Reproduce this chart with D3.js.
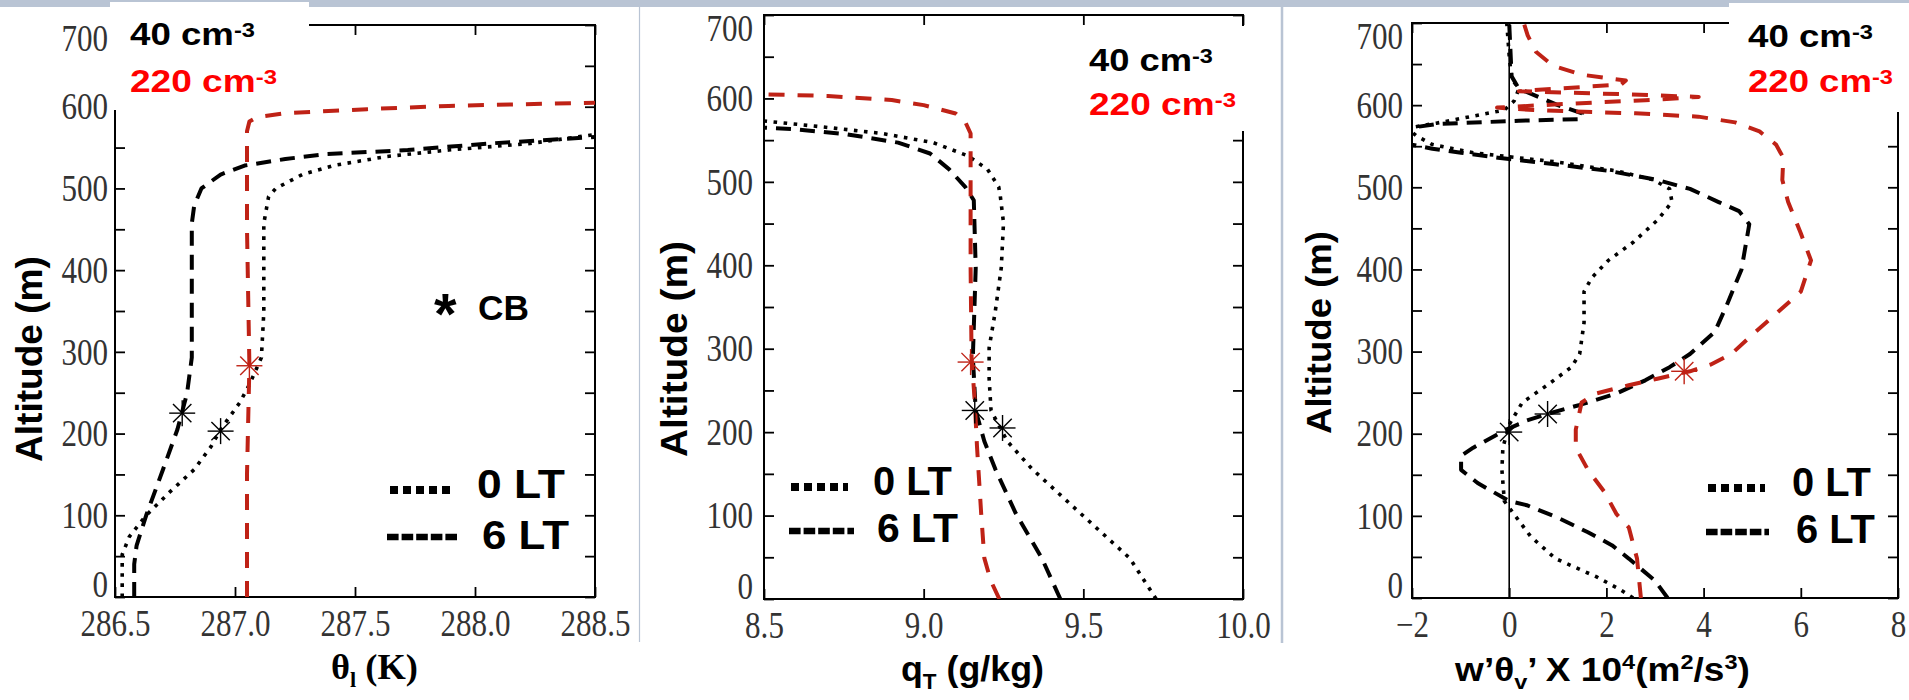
<!DOCTYPE html>
<html>
<head>
<meta charset="utf-8">
<script src="https://cdn.jsdelivr.net/npm/d3@7"></script>
<style>
body { margin: 0; background: #fff; }
svg { display: block; }
</style>
</head>
<body>
<div id="chart"></div>
<script>

// ---- data (altitude in m, value) ----
var altTicks = d3.range(0, 701, 50);
var altLabels = [0, 100, 200, 300, 400, 500, 600, 700];

var thetaTicks = [286.5, 287.0, 287.5, 288.0, 288.5];
var qtTicks = [8.5, 9.0, 9.5, 10.0];
var fluxTicks = [-2, 0, 2, 4, 6, 8];

// theta_l (K)
var theta0LT = [[0,286.53],[52,286.53],[74,286.56],[100,286.63],[129,286.73],[156,286.83],[184,286.90],[205,286.94],[238,287.02],[260,287.06],[293,287.11],[348,287.12],[457,287.12],[490,287.14],[500,287.17],[517,287.28],[528,287.41],[539,287.63],[547,287.89],[555,288.23],[566,288.5]];
var theta6LT = [[0,286.58],[40,286.58],[63,286.59],[100,286.63],[156,286.70],[205,286.76],[249,286.80],[293,286.82],[457,286.82],[479,286.83],[500,286.86],[517,286.94],[528,287.04],[536,287.21],[542,287.38],[547,287.72],[555,288.06],[563,288.5]];
var theta220 = [[0,287.05],[150,287.05],[283,287.06],[450,287.05],[570,287.05],[582,287.06],[587,287.09],[592,287.21],[597,287.55],[601,287.89],[605,288.5]];
var thetaCB = [[225,286.78],[203,286.94]];
var thetaCB220 = [[283,287.06]];

// q_T (g/kg)
var qt0LT = [[0,9.728],[49,9.645],[103,9.49],[156,9.339],[189,9.262],[226,9.211],[264,9.205],[301,9.205],[344,9.224],[397,9.243],[451,9.25],[483,9.24],[494,9.235],[515,9.20],[531,9.14],[547,9.03],[558,8.87],[566,8.68],[573,8.5]];
var qt6LT = [[0,9.428],[49,9.37],[103,9.288],[156,9.224],[189,9.19],[226,9.163],[290,9.154],[397,9.163],[478,9.157],[494,9.13],[515,9.08],[534,9.02],[547,8.92],[557,8.76],[563,8.6],[565,8.5]];
var qt220 = [[0,9.237],[22,9.21],[49,9.19],[103,9.18],[183,9.167],[237,9.16],[290,9.15],[397,9.147],[558,9.147],[572,9.13],[582,9.10],[592,9.0],[598,8.9],[603,8.7],[605,8.5]];
var qtCB = [[226,9.16],[205,9.247]];
var qtCB220 = [[284,9.147]];

// w'theta_v' x 10^4 (m2/s3)
var flux0LT = [[0,2.55],[10,2.29],[26,1.79],[48,0.95],[75,0.44],[102,0.1],[118,-0.1],[156,-0.15],[183,-0.13],[211,0],[238,0.27],[259,0.78],[281,1.28],[297,1.45],[335,1.54],[373,1.54],[390,1.70],[411,2.04],[433,2.55],[460,3.05],[482,3.35],[498,3.3],[509,2.97],[520,2.21],[531,0.95],[542,-0.74],[552,-1.58],[563,-1.92],[572,-2.1],[578,-1.5],[586,-0.8],[594,-0.1],[605,0.1],[620,0.2],[632,0.05],[660,0.0],[700,-0.05]];
var flux6LT = [[0,3.26],[21,3.0],[48,2.46],[64,2.12],[80,1.62],[97,1.03],[113,0.36],[118,0],[140,-0.65],[156,-0.99],[173,-0.99],[183,-0.74],[205,-0.06],[216,0.36],[224,0.78],[235,1.45],[249,2.21],[265,2.80],[281,3.30],[297,3.72],[324,4.23],[357,4.48],[400,4.78],[455,4.94],[471,4.73],[482,4.31],[498,3.72],[509,3.05],[520,2.04],[528,0.95],[536,-0.23],[542,-0.99],[547,-1.58],[553,-2.1],[570,-2.3],[577,-1.5],[581,0.2],[583,1.5],[590,1.5],[600,1.0],[610,0.6],[620,0.2],[635,0.05],[700,0.0]];
var flux220 = [[0,2.71],[48,2.63],[86,2.46],[102,2.21],[129,1.96],[156,1.62],[183,1.37],[205,1.37],[238,1.49],[249,1.79],[259,2.46],[267,3.05],[276,3.72],[284,4.14],[297,4.57],[324,5.07],[346,5.49],[373,6.0],[411,6.21],[444,6.0],[482,5.74],[509,5.62],[536,5.64],[552,5.49],[568,5.15],[579,4.65],[586,3.89],[590,2.6],[594,0.5],[597,-0.25],[601,1.0],[606,2.8],[610,3.9],[613,2.5],[617,0.2],[621,1.2],[625,2.3],[630,2.4],[637,1.5],[648,0.9],[665,0.55],[685,0.38],[700,0.3]];
var fluxCB = [[202,0.0],[224,0.79]];
var fluxCB220 = [[276,3.6]];

// ---- layout ----
var width = 1909, height = 700;
var RED_LINE = "#bf2216", RED_TEXT = "#ff0000", BAND = "#b9c4d4";
var SANS = "Liberation Sans, Arial, sans-serif", SERIF = "Liberation Serif, Times New Roman, serif";

var svg = d3.select("#chart")
    .append("svg")
    .attr("width", width)
    .attr("height", height);

svg.append("rect").attr("width", width).attr("height", height).attr("fill", "#fff");
svg.append("rect").attr("x", 0).attr("y", 0).attr("width", width).attr("height", 7).attr("fill", BAND);
svg.append("line").attr("x1", 639.5).attr("x2", 639.5).attr("y1", 7).attr("y2", 642)
    .attr("stroke", BAND).attr("stroke-width", 1.2);
svg.append("line").attr("x1", 1282).attr("x2", 1282).attr("y1", 7).attr("y2", 643)
    .attr("stroke", BAND).attr("stroke-width", 2.5);

var panels = [
    { id: "p1", left: 115, right: 595, top: 25, bottom: 597, domain: [286.5, 288.5], ticks: thetaTicks,
      fmt: d3.format(".1f"), labPad: 7,
      series: [theta0LT, theta6LT, theta220], cb: thetaCB, cb220: thetaCB220, zero: false },
    { id: "p2", left: 764, right: 1243, top: 15, bottom: 599, domain: [8.5, 10.0], ticks: qtTicks,
      fmt: d3.format(".1f"), labPad: 11,
      series: [qt0LT, qt6LT, qt220], cb: qtCB, cb220: qtCB220, zero: false },
    { id: "p3", left: 1412, right: 1898, top: 23, bottom: 598, domain: [-2, 8], ticks: fluxTicks,
      fmt: d3.format("d"), labPad: 9,
      series: [flux0LT, flux6LT, flux220], cb: fluxCB, cb220: fluxCB220, zero: true }
];

var styles = [
    { stroke: "#000", width: 3.6, dash: "3.6,6.5" },
    { stroke: "#000", width: 4, dash: "15,9" },
    { stroke: RED_LINE, width: 4, dash: "16,13" }
];

function star(g, cx, cy, r, color) {
    for (var k = 0; k < 4; k++) {
        var a = k * Math.PI / 4;
        g.append("line")
            .attr("x1", cx - r * Math.cos(a)).attr("y1", cy - r * Math.sin(a))
            .attr("x2", cx + r * Math.cos(a)).attr("y2", cy + r * Math.sin(a))
            .attr("stroke", color).attr("stroke-width", 1.4);
    }
}

// tick labels in the original are tall and narrow
function squeezeLabels(sel) {
    sel.each(function() {
        var t = d3.select(this);
        var tx = +t.attr("x") || 0, ty = +t.attr("y") || 0;
        t.attr("x", 0).attr("y", 0)
            .attr("transform", "translate(" + tx + "," + ty + ") scale(0.84,1)");
    });
}

panels.forEach(function(p) {
    var x = d3.scaleLinear().domain(p.domain).range([p.left, p.right]);
    var y = d3.scaleLinear().domain([0, 700]).range([p.bottom, p.top]);
    var g = svg.append("g");

    svg.append("clipPath").attr("id", "clip-" + p.id)
        .append("rect").attr("x", p.left).attr("y", p.top)
        .attr("width", p.right - p.left).attr("height", p.bottom - p.top);

    // axes: ticks inward on all four sides
    var ax = [
        d3.axisBottom(x).tickValues(p.ticks).tickFormat(p.fmt).tickSizeInner(-10).tickSizeOuter(0).tickPadding(13),
        d3.axisTop(x).tickValues(p.ticks).tickFormat("").tickSizeInner(-10).tickSizeOuter(0),
        d3.axisLeft(y).tickValues(altTicks).tickFormat(function(d) { return altLabels.indexOf(d) >= 0 ? d : ""; })
            .tickSizeInner(-10).tickSizeOuter(0).tickPadding(p.labPad),
        d3.axisRight(y).tickValues(altTicks).tickFormat("").tickSizeInner(-10).tickSizeOuter(0)
    ];
    var pos = ["translate(0," + p.bottom + ")", "translate(0," + p.top + ")",
               "translate(" + p.left + ",0)", "translate(" + p.right + ",0)"];
    ax.forEach(function(a, i) {
        var ag = g.append("g").attr("transform", pos[i]).call(a);
        ag.select(".domain").remove();
        ag.selectAll(".tick line").attr("stroke", "#000").attr("stroke-width", 1.8);
        ag.selectAll("text").attr("font-family", SERIF).attr("font-size", 37).attr("fill", "#333");
        if (i === 2) {
            ag.selectAll(".tick text").attr("dy", function(d) {
                return d === 700 ? "0.7em" : d === 0 ? "-0.02em" : "0.33em";
            });
        }
        if (i === 0 || i === 2) squeezeLabels(ag.selectAll(".tick text"));
    });

    g.append("rect").attr("x", p.left).attr("y", p.top)
        .attr("width", p.right - p.left).attr("height", p.bottom - p.top)
        .attr("fill", "none").attr("stroke", "#000").attr("stroke-width", 2);

    var plot = g.append("g").attr("clip-path", "url(#clip-" + p.id + ")");

    if (p.zero) {
        plot.append("line").attr("x1", x(0)).attr("x2", x(0)).attr("y1", y(0)).attr("y2", y(700))
            .attr("stroke", "#000").attr("stroke-width", 1.6);
    }

    var line = d3.line()
        .x(function(d) { return x(d[1]); })
        .y(function(d) { return y(d[0]); });

    p.series.forEach(function(s, i) {
        plot.append("path")
            .attr("d", line(s))
            .attr("fill", "none")
            .attr("stroke", styles[i].stroke)
            .attr("stroke-width", styles[i].width)
            .attr("stroke-dasharray", styles[i].dash)
            .attr("stroke-linejoin", "round");
    });

    p.cb.forEach(function(d) { star(plot, x(d[1]), y(d[0]), 13, "#000"); });
    p.cb220.forEach(function(d) { star(plot, x(d[1]), y(d[0]), 13, RED_LINE); });
});

// white boxes that hide parts of the frames (as in the original)
svg.append("rect").attr("x", 110).attr("y", 2).attr("width", 199).attr("height", 108).attr("fill", "#fff");
svg.append("rect").attr("x", 1082).attr("y", 26).attr("width", 168).attr("height", 105).attr("fill", "#fff");
svg.append("rect").attr("x", 1729).attr("y", 3).attr("width", 180).attr("height", 109).attr("fill", "#fff");

// ---- text helpers ----
function fitText(x0, x1, baseY, size, family, build) {
    var g = svg.append("g");
    var t = g.append("text").attr("font-family", family).attr("font-size", size).attr("font-weight", "bold");
    build(t);
    var b = t.node().getBBox();
    var s = (x1 - x0) / b.width;
    g.attr("transform", "translate(" + (x0 - b.x * s) + "," + baseY + ") scale(" + s + ",1)");
    return t;
}

function fitVertical(baseX, yTop, yBottom, size, txt) {
    var g = svg.append("g");
    var t = g.append("text").attr("font-family", SANS).attr("font-size", size).attr("font-weight", "bold").text(txt);
    var b = t.node().getBBox();
    var s = (yBottom - yTop) / b.width;
    g.attr("transform", "translate(" + baseX + "," + yBottom + ") rotate(-90) scale(" + s + ",1) translate(" + (-b.x) + ",0)");
}

function conc(x0, x1, baseY, num, color) {
    fitText(x0, x1, baseY, 31, SANS, function(t) {
        t.attr("fill", color);
        t.append("tspan").text(num + " cm");
        t.append("tspan").attr("font-size", 20).attr("dy", -8).text("-3");
    });
}

// concentration labels
conc(130, 255, 45, "40", "#000");
conc(130, 277, 92, "220", RED_TEXT);
conc(1089, 1213, 71, "40", "#000");
conc(1089, 1236, 115, "220", RED_TEXT);
conc(1748, 1873, 47, "40", "#000");
conc(1748, 1893, 92, "220", RED_TEXT);

// cloud base key
svg.append("text").attr("x", 434).attr("y", 334).attr("font-family", SANS).attr("font-weight", "bold")
    .attr("font-size", 58).text("*");
fitText(478, 529, 320, 35, SANS, function(t) { t.text("CB"); });

// legends
var legends = [
    { dot: [390, 450, 494], dash: [387, 457, 537], t0: [477, 565, 498], t6: [482, 569, 549] },
    { dot: [791, 848, 491], dash: [789, 854, 531], t0: [873, 952, 495], t6: [877, 958, 542] },
    { dot: [1708, 1765, 492], dash: [1706, 1769, 532], t0: [1792, 1871, 496], t6: [1796, 1875, 543] }
];
legends.forEach(function(l) {
    svg.append("line").attr("x1", l.dot[0]).attr("x2", l.dot[1]).attr("y1", l.dot[2] - 4).attr("y2", l.dot[2] - 4)
        .attr("stroke", "#000").attr("stroke-width", 8).attr("stroke-dasharray", "8,5");
    svg.append("line").attr("x1", l.dash[0]).attr("x2", l.dash[1]).attr("y1", l.dash[2]).attr("y2", l.dash[2])
        .attr("stroke", "#000").attr("stroke-width", 6.5).attr("stroke-dasharray", "11.6,3");
    fitText(l.t0[0], l.t0[1], l.t0[2], 40, SANS, function(t) { t.text("0 LT"); });
    fitText(l.t6[0], l.t6[1], l.t6[2], 40, SANS, function(t) { t.text("6 LT"); });
});

// y axis titles
fitVertical(42, 256, 462, 36, "Altitude (m)");
fitVertical(687, 241, 457, 36, "Altitude (m)");
fitVertical(1331, 231, 434, 36, "Altitude (m)");

// x axis titles
fitText(331, 418, 679, 36, SERIF, function(t) {
    t.append("tspan").text("\u03b8");
    t.append("tspan").attr("font-size", 22).attr("dy", 8).text("l");
    t.append("tspan").attr("dy", -8).text(" (K)");
});
fitText(901, 1044, 681, 35, SANS, function(t) {
    t.append("tspan").text("q");
    t.append("tspan").attr("font-size", 22).attr("dy", 8).text("T");
    t.append("tspan").attr("dy", -8).text(" (g/kg)");
});
fitText(1454, 1750, 681, 33, SANS, function(t) {
    t.append("tspan").text("w\u2019\u03b8");
    t.append("tspan").attr("font-size", 21).attr("dy", 8).text("v");
    t.append("tspan").attr("dy", -8).text("\u2019 X 10");
    t.append("tspan").attr("font-size", 21).attr("dy", -12).text("4");
    t.append("tspan").attr("dy", 12).text("(m");
    t.append("tspan").attr("font-size", 21).attr("dy", -12).text("2");
    t.append("tspan").attr("dy", 12).text("/s");
    t.append("tspan").attr("font-size", 21).attr("dy", -12).text("3");
    t.append("tspan").attr("dy", 12).text(")");
});

</script>
</body>
</html>
